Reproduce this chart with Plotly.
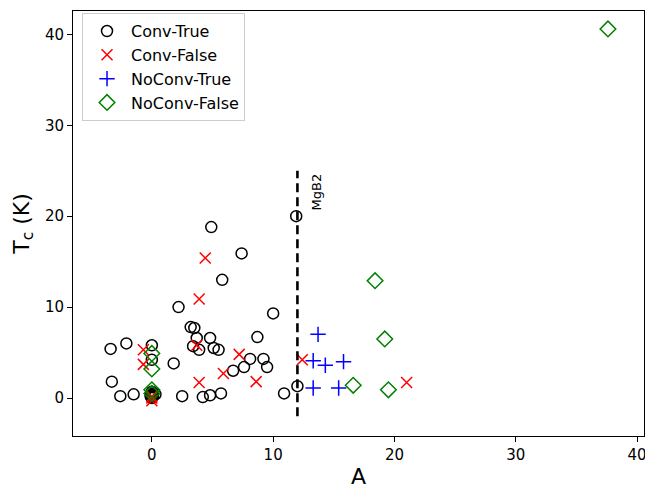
import plotly.graph_objects as go

conv_true_x = [-3.4, -3.3, -2.1, -2.6, -1.5, 0.0, 0.0, 0.3, 0.0, 0.05, 0.0, -0.05, 0.1, -0.1, 0.0, 0.1, -0.1, 0.0,
               1.8, 2.2, 2.5, 3.2, 3.5, 3.7, 3.4, 3.9,
               4.8, 5.1, 5.5, 4.2, 4.8, 5.7, 4.9, 7.4, 5.8, 10.0, 8.7, 6.7, 7.6, 8.1, 9.2, 9.5,
               10.9, 12.0, 11.9]
conv_true_y = [5.4, 1.8, 6.0, 0.2, 0.4, 5.8, 4.2, 0.4, 0.5, 0.3, 0.1, 0.2, 0.4, 0.4, 0.7, 0.2, 0.2, 0.0,
               3.8, 10.0, 0.2, 7.8, 7.7, 6.6, 5.7, 5.3,
               6.6, 5.5, 5.3, 0.1, 0.3, 0.5, 18.8, 15.9, 13.0, 9.3, 6.7, 3.0, 3.4, 4.3, 4.3, 3.4,
               0.5, 1.3, 20.0]

conv_false_x = [4.4, 3.9, -0.7, -0.7, 3.7, 7.2, 5.9, 3.9, 8.6, 0.0, 0.0, 0.0, 12.4, 21.0]
conv_false_y = [15.4, 10.9, 5.3, 3.7, 5.8, 4.8, 2.7, 1.7, 1.8, -0.3, 0.0, 0.2, 4.2, 1.7]

noconv_true_x = [13.7, 13.3, 14.3, 15.8, 13.3, 15.4]
noconv_true_y = [7.0, 4.1, 3.6, 4.0, 1.1, 1.1]

noconv_false_x = [18.4, 19.2, 16.6, 19.5, 37.6, 0.0, 0.0, 0.0, 0.0]
noconv_false_y = [12.9, 6.5, 1.4, 0.9, 40.6, 4.9, 3.2, 0.9, 0.5]

mgb2_x = [12, 12]
mgb2_y = [-2, 25]

x_ticks = [0, 10, 20, 30, 40]
y_ticks = [0, 10, 20, 30, 40]

fig = go.Figure()
fig.add_trace(go.Scatter(x=conv_true_x, y=conv_true_y, mode="markers", name="Conv-True", legendgroup="a",
                         marker=dict(symbol="circle-open", size=11, color="black", line=dict(width=1.5))))
fig.add_trace(go.Scatter(x=conv_false_x, y=conv_false_y, mode="markers", name="Conv-False", legendgroup="b",
                         marker=dict(symbol="x-thin-open", size=11, color="red", line=dict(width=1.5, color="red"))))
fig.add_trace(go.Scatter(x=noconv_true_x, y=noconv_true_y, mode="markers", name="NoConv-True", legendgroup="c",
                         marker=dict(symbol="cross-thin-open", size=11, color="blue", line=dict(width=1.5, color="blue"))))
fig.add_trace(go.Scatter(x=noconv_false_x, y=noconv_false_y, mode="markers", name="NoConv-False", legendgroup="d",
                         marker=dict(symbol="diamond-open", size=12, color="green", line=dict(width=1.5))))
fig.add_trace(go.Scatter(x=mgb2_x, y=mgb2_y, mode="lines", showlegend=False,
                         line=dict(color="black", width=2.6, dash="9px,5px")))
fig.add_annotation(x=13.6, y=22.7, text="MgB2", showarrow=False, textangle=-90,
                   font=dict(size=13, color="black"))

axis_common = dict(showline=True, linecolor="black", linewidth=1, mirror=True, ticks="outside",
                   ticklen=5, tickcolor="black", showgrid=False, zeroline=False, automargin=False,
                   ticklabeloverflow="allow", tickfont=dict(size=15, color="black"))
fig.update_xaxes(range=[-6.5, 40.57], tickvals=x_ticks,
                 title=dict(text="A", font=dict(size=22, color="black"), standoff=11), **axis_common)
fig.update_yaxes(range=[-4.18, 42.57], tickvals=y_ticks,
                 title=dict(text="T<sub>c</sub> (K)", font=dict(size=22, color="black"), standoff=9), **axis_common)

fig.update_layout(
    width=645, height=489,
    margin=dict(l=73, r=1, t=11, b=53),
    plot_bgcolor="white", paper_bgcolor="white",
    font=dict(family="DejaVu Sans", color="black"),
    legend=dict(x=0.0158, y=0.995, xanchor="left", yanchor="top", bgcolor="rgba(255,255,255,0.8)",
                bordercolor="#cccccc", borderwidth=1, font=dict(size=16), tracegroupgap=0,
                itemwidth=38),
)

fig.write_html("out.html", config={"displayModeBar": False},
               post_script="document.body.style.margin='0';document.body.style.overflow='hidden';")
